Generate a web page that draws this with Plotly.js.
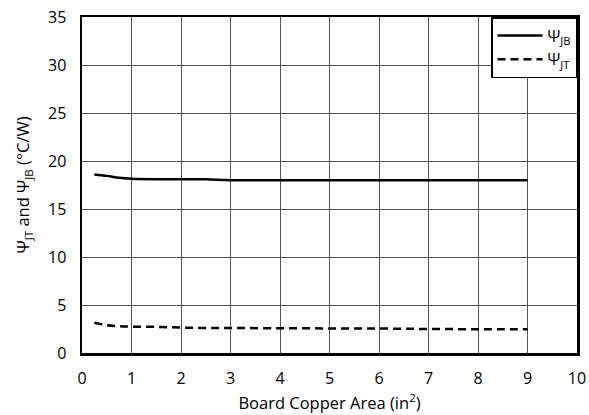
<!DOCTYPE html>
<html>
<head>
<meta charset="utf-8">
<script src="https://cdn.plot.ly/plotly-3.0.1.min.js"></script>
<style>html,body{margin:0;padding:0;background:#fff;}#chart{width:589px;height:415px;}</style>
</head>
<body>
<div id="chart"></div>
<script>
const area = [0.25, 0.5, 0.75, 1, 1.5, 2, 2.5, 3, 4, 5, 6, 7, 8, 9];
const psiJB = [18.6, 18.45, 18.25, 18.15, 18.1, 18.1, 18.1, 18.0, 18.0, 18.0, 18.0, 18.0, 18.0, 18.0];
const psiJT = [3.16, 2.9, 2.8, 2.75, 2.72, 2.65, 2.6, 2.6, 2.58, 2.56, 2.55, 2.5, 2.48, 2.47];
const seriesNames = ['Ψ<sub>JB</sub>', 'Ψ<sub>JT</sub>'];

const fam = '"Open Sans", "DejaVu Sans", sans-serif';

const traces = [
  {x: area, y: psiJB, name: seriesNames[0], mode: 'lines', line: {color: '#000', width: 2.5, shape: 'spline'}},
  {x: area, y: psiJT, name: seriesNames[1], mode: 'lines', line: {color: '#000', width: 2.5, dash: '8px,5px', shape: 'spline'}}
];

const layout = {
  width: 589, height: 415,
  margin: {l: 82, r: 12, t: 17, b: 62},
  paper_bgcolor: '#fff', plot_bgcolor: '#fff',
  font: {family: fam, color: '#000', size: 14},
  showlegend: true,
  legend: {x: 1, y: 1, xanchor: 'right', yanchor: 'top', bgcolor: '#fff', bordercolor: '#000', borderwidth: 1.5,
           font: {family: fam, size: 16, color: '#000'}, tracegroupgap: 0, itemwidth: 45},
  xaxis: {
    range: [0, 10], dtick: 1, tick0: 0,
    showgrid: true, gridcolor: '#555', gridwidth: 1,
    showline: true, linecolor: '#000', linewidth: 2.5, mirror: true,
    zeroline: false,
    ticks: 'outside', ticklen: 9, tickcolor: 'rgba(0,0,0,0)',
    tickfont: {family: fam, size: 16, color: '#000'},
    title: {text: 'Board Copper Area (in<sup>2</sup>)', font: {family: fam, size: 16.5, color: '#000'}, standoff: 10}
  },
  yaxis: {
    range: [0, 35], dtick: 5, tick0: 0,
    showgrid: true, gridcolor: '#555', gridwidth: 1,
    showline: true, linecolor: '#000', linewidth: 2.5, mirror: true,
    zeroline: false,
    ticks: 'outside', ticklen: 10, tickcolor: 'rgba(0,0,0,0)',
    tickfont: {family: fam, size: 16, color: '#000'},
    title: {text: 'Ψ<sub>JT</sub> and Ψ<sub>JB</sub> (°C/W)', font: {family: fam, size: 16.5, color: '#000'}, standoff: 14}
  }
};

Plotly.newPlot('chart', traces, layout, {displayModeBar: false, staticPlot: true});
</script>
</body>
</html>
